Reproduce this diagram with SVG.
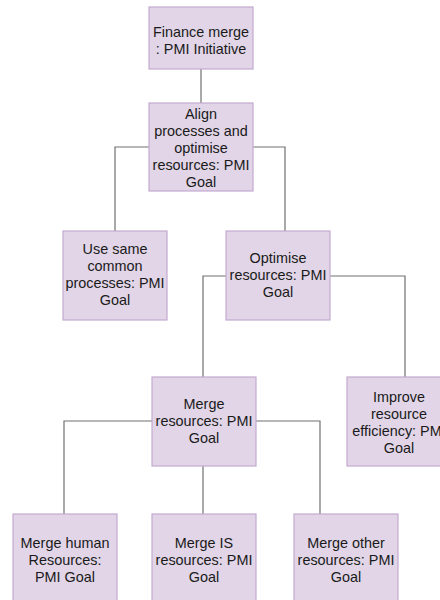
<svg xmlns="http://www.w3.org/2000/svg" width="440" height="600" viewBox="0 0 440 600">
<style>
.box{fill:#e1d5e7;stroke:#c3abd0;stroke-width:1.2}
.lbl{font-family:"Liberation Sans",Arial,sans-serif;font-size:14.4px;fill:#1a1a1a;text-anchor:middle}
.conn{fill:none;stroke:#707070;stroke-width:1.2}
</style>
<rect width="440" height="600" fill="#ffffff"/>
<g id="connectors">
<path class="conn" d="M201,69 V103"/>
<path class="conn" d="M149,147 H115 V231"/>
<path class="conn" d="M253,147 H285 V231"/>
<path class="conn" d="M226,276 H203 V377"/>
<path class="conn" d="M330,276 H405 V377"/>
<path class="conn" d="M203,466 V514"/>
<path class="conn" d="M152,421 H64 V514"/>
<path class="conn" d="M256,421 H320 V514"/>
</g>
<g id="n1"><rect class="box" x="149" y="7" width="104" height="62"/>
<text class="lbl" x="201" y="36.5">Finance merge</text><text class="lbl" x="201" y="53.5">: PMI Initiative</text></g>
<g id="n2"><rect class="box" x="149" y="103" width="104" height="88"/>
<text class="lbl" x="201" y="118.5">Align</text><text class="lbl" x="201" y="135.5">processes and</text><text class="lbl" x="201" y="152.5">optimise</text><text class="lbl" x="201" y="169.5">resources: PMI</text><text class="lbl" x="201" y="186.5">Goal</text></g>
<g id="n3"><rect class="box" x="63" y="231" width="104" height="89"/>
<text class="lbl" x="115" y="254">Use same</text><text class="lbl" x="115" y="271">common</text><text class="lbl" x="115" y="288">processes: PMI</text><text class="lbl" x="115" y="305">Goal</text></g>
<g id="n4"><rect class="box" x="226" y="231" width="104" height="89"/>
<text class="lbl" x="278" y="263">Optimise</text><text class="lbl" x="278" y="280">resources: PMI</text><text class="lbl" x="278" y="297">Goal</text></g>
<g id="n5"><rect class="box" x="152" y="377" width="104" height="89"/>
<text class="lbl" x="204" y="409">Merge</text><text class="lbl" x="204" y="426">resources: PMI</text><text class="lbl" x="204" y="443">Goal</text></g>
<g id="n6"><rect class="box" x="347" y="377" width="104" height="89"/>
<text class="lbl" x="399" y="402">Improve</text><text class="lbl" x="399" y="419">resource</text><text class="lbl" x="399" y="436">efficiency: PMI</text><text class="lbl" x="399" y="453">Goal</text></g>
<g id="n7"><rect class="box" x="13" y="514" width="104" height="89"/>
<text class="lbl" x="65" y="547.5">Merge human</text><text class="lbl" x="65" y="564.5">Resources:</text><text class="lbl" x="65" y="581.5">PMI Goal</text></g>
<g id="n8"><rect class="box" x="152" y="514" width="104" height="89"/>
<text class="lbl" x="204" y="547.5">Merge IS</text><text class="lbl" x="204" y="564.5">resources: PMI</text><text class="lbl" x="204" y="581.5">Goal</text></g>
<g id="n9"><rect class="box" x="294" y="514" width="104" height="89"/>
<text class="lbl" x="346" y="547.5">Merge other</text><text class="lbl" x="346" y="564.5">resources: PMI</text><text class="lbl" x="346" y="581.5">Goal</text></g>
</svg>
